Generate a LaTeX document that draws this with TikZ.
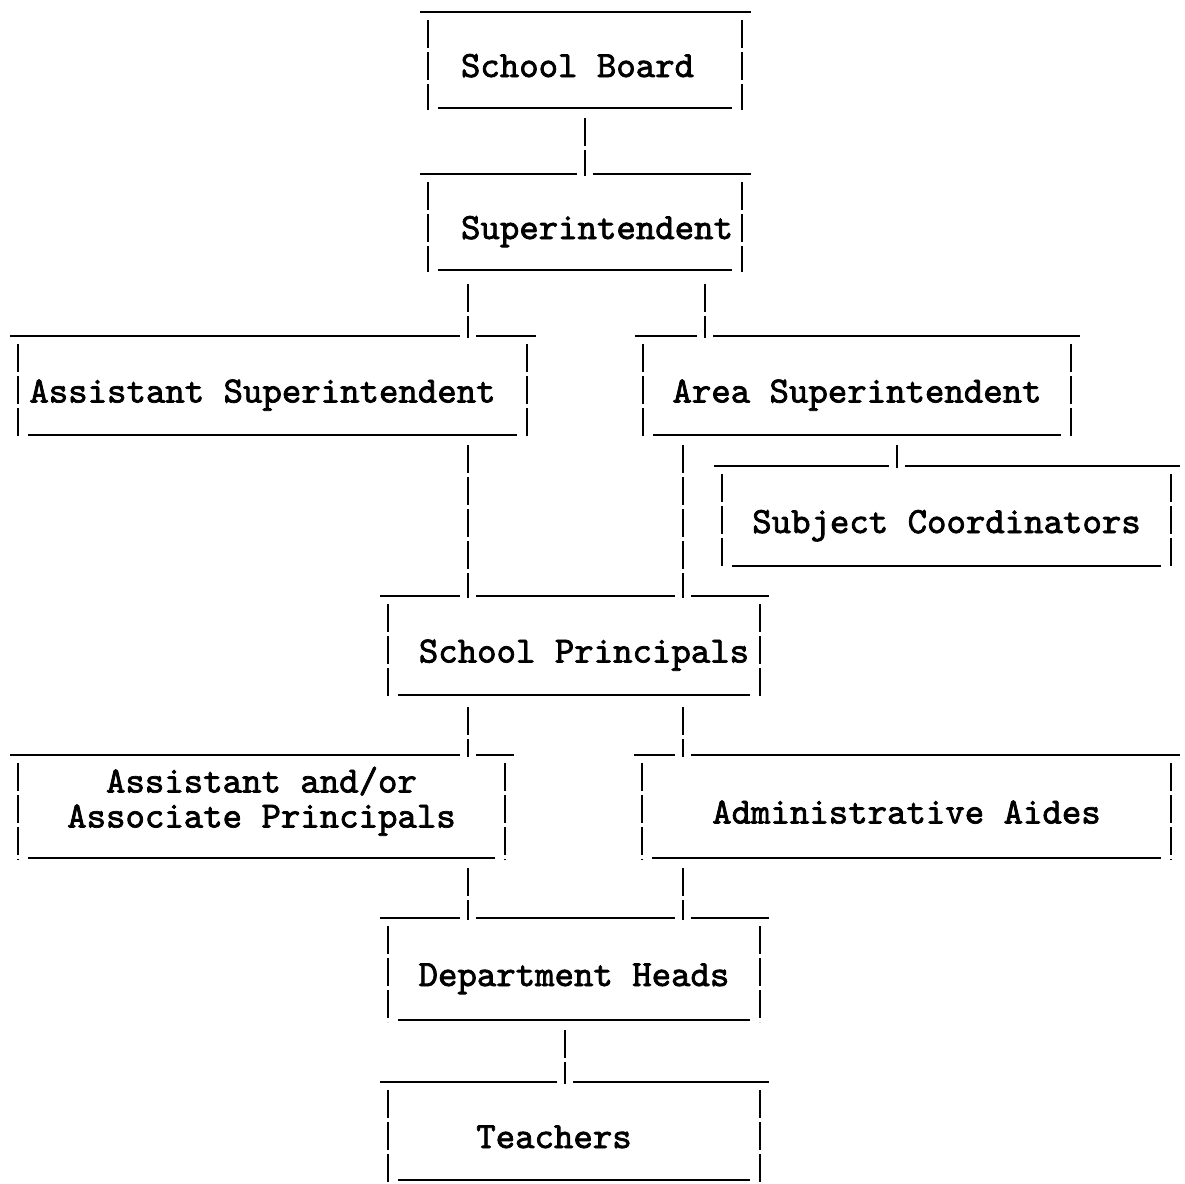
\documentclass[tikz,border=0pt]{standalone}
\usepackage{fontspec}
\newfontfamily\typer[FakeBold=2]{lmmono10-regular.otf}

% typewritten box: underscore top, stacked bars, inset underscore bottom
\newcommand{\typebox}[1]{%
  \draw[rule] ([xshift=-8pt]#1.north west) -- ([xshift=9pt]#1.north east);
  \draw[bar] ([yshift=-8pt]#1.north west) -- ([yshift=-2pt]#1.south west);
  \draw[bar] ([yshift=-8pt]#1.north east) -- ([yshift=-2pt]#1.south east);
  \draw[rule] ([xshift=10pt]#1.south west) -- ([xshift=-10pt]#1.south east);
}

\begin{document}
\begin{tikzpicture}[x=1pt, y=-1pt,
    post/.style={inner sep=0pt, outer sep=0pt,
        font=\typer\fontsize{37}{33}\selectfont, text height=40pt, text depth=6pt},
    nudge/.style={execute at begin node={\hspace*{#1}}},
    rule/.style={line width=2.4pt},
    bar/.style={line width=2.4pt, dash pattern=on 28pt off 4pt},
    link/.style={bar, preaction={draw=white, line width=16pt, solid}}
]
\useasboundingbox (0,0) rectangle (1185,1183);

% Positions
\node[post, nudge=-15pt, minimum width=314, minimum height=96] (board) at (585,60) {School Board};
\node[post, nudge=24pt, minimum width=314, minimum height=96] (sup) at (585,222) {Superintendent};
\node[post, nudge=-20pt, minimum width=509, minimum height=99] (asup) at (272.5,385.5) {Assistant Superintendent};
\node[post, minimum width=428, minimum height=99] (area) at (857,385.5) {Area Superintendent};
\node[post, minimum width=449, minimum height=100] (subj) at (946.5,516) {Subject Coordinators};
\node[post, nudge=20pt, minimum width=372, minimum height=99] (prin) at (574,645.5) {School Principals};
\node[post, align=center, font=\typer\fontsize{37}{35}\selectfont, minimum width=487, minimum height=103, text height=52pt, text depth=10pt] (asso) at (261.5,806.5) {Assistant and/or\\Associate Principals};
\node[post, minimum width=529, minimum height=103] (aide) at (906.5,806.5) {Administrative Aides};
\node[post, minimum width=372, minimum height=102] (dept) at (574,969) {Department Heads};
\node[post, nudge=-40pt, minimum width=372, minimum height=98] (teach) at (574,1131) {Teachers};

% Boxes
\foreach \n in {board,sup,asup,area,subj,prin,asso,aide,dept,teach}
  {\typebox{\n}}

% Columns of the links
\coordinate (cL) at (468,0);
\coordinate (cR) at (683,0);
\coordinate (cSup) at (705,0);
\coordinate (cSub) at (897,0);
\coordinate (cBot) at (565,0);

% Links
\draw[link] (board.south) ++(0,10) -- (sup.north) -- ++(0,2);
\draw[link] (cL |- sup.south) ++(0,14) -- (cL |- asup.north) -- ++(0,2);
\draw[link] (cSup |- sup.south) ++(0,14) -- (cSup |- area.north) -- ++(0,2);
\draw[link] (cL |- asup.south) ++(0,10) -- (cL |- prin.north) -- ++(0,2);
\draw[link] (cR |- area.south) ++(0,10) -- (cR |- prin.north) -- ++(0,2);
\draw[link] (cSub |- area.south) ++(0,10) -- (cSub |- subj.north) -- ++(0,2);
\draw[link] (cL |- prin.south) ++(0,12) -- (cL |- asso.north) -- ++(0,2);
\draw[link] (cR |- prin.south) ++(0,12) -- (cR |- aide.north) -- ++(0,2);
\draw[link] (cL |- asso.south) ++(0,10) -- (cL |- dept.north) -- ++(0,2);
\draw[link] (cR |- aide.south) ++(0,10) -- (cR |- dept.north) -- ++(0,2);
\draw[link] (cBot |- dept.south) ++(0,10) -- (cBot |- teach.north) -- ++(0,2);

\end{tikzpicture}
\end{document}
